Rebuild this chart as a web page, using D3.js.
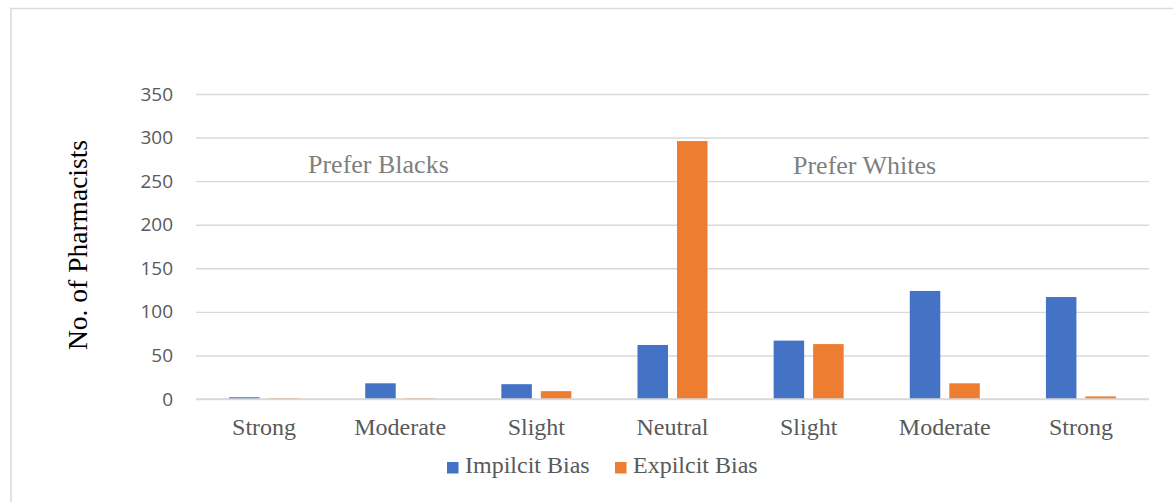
<!DOCTYPE html>
<html>
<head>
<meta charset="utf-8">
<script src="https://cdn.jsdelivr.net/npm/d3@7/dist/d3.min.js"></script>
<style>
  html, body { margin: 0; padding: 0; background: #fff; }
  svg { display: block; }
  .serif { font-family: "Liberation Serif", "Times New Roman", serif; }
</style>
</head>
<body>
<svg id="chart" width="1173" height="502"></svg>
<script>
// Bias categories along the x axis
const categories = ["Strong", "Moderate", "Slight", "Neutral", "Slight", "Moderate", "Strong"];
// Series names and counts of pharmacists
const seriesNames = ["Impilcit Bias", "Expilcit Bias"];
const implicitBias = [2, 18, 17, 62, 67, 124, 117];
const explicitBias = [1, 1, 9, 296, 63, 18, 3];
const yTicks = [0, 50, 100, 150, 200, 250, 300, 350];
const colors = ["#4472C4", "#ED7D31"];

const svg = d3.select("#chart");
const W = 1173, H = 502;
const plot = { left: 196, right: 1149, top: 94, bottom: 399 };
const serif = "'Liberation Serif', 'Times New Roman', serif";

// outer chart border
svg.append("rect")
  .attr("x", 11).attr("y", 8.5)
  .attr("width", W + 20).attr("height", H + 20)
  .attr("fill", "#fff").attr("stroke", "#d9d9d9").attr("stroke-width", 1.5);

const x = d3.scaleBand().domain(d3.range(categories.length))
  .range([plot.left, plot.right]).paddingInner(0).paddingOuter(0);
const xInner = d3.scaleBand().domain(seriesNames).range([-35, 35]).paddingInner(0.228);
const y = d3.scaleLinear().domain([0, 350]).range([plot.bottom, plot.top]);

// horizontal gridlines and y tick labels
const yAxis = d3.axisLeft(y).tickValues(yTicks).tickSize(-(plot.right - plot.left)).tickPadding(23);
const gy = svg.append("g").attr("transform", `translate(${plot.left},0)`).call(yAxis)
  .attr("font-family", "'Open Sans', 'Liberation Sans', sans-serif")
  .attr("font-size", 19);
gy.select(".domain").remove();
gy.selectAll(".tick line").attr("stroke", "#d9d9d9").attr("stroke-width", 1.4);
gy.selectAll(".tick text").attr("fill", "#595959");

// bars
const series = [implicitBias, explicitBias];
series.forEach((vals, si) => {
  svg.append("g").selectAll("rect")
    .data(vals)
    .join("rect")
    .attr("x", (d, i) => x(i) + x.bandwidth() / 2 + xInner(seriesNames[si]))
    .attr("width", xInner.bandwidth())
    .attr("y", d => y(d))
    .attr("height", d => y(0) - y(d))
    .attr("fill", colors[si]);
});

// baseline over bar bottoms
svg.append("line")
  .attr("x1", plot.left).attr("x2", plot.right)
  .attr("y1", y(0)).attr("y2", y(0))
  .attr("stroke", "#d9d9d9").attr("stroke-width", 1.4);

// category labels
const xAxis = d3.axisBottom(x).tickFormat(i => categories[i]).tickSize(0).tickPadding(0);
const gx = svg.append("g").attr("transform", `translate(0,${plot.bottom})`).call(xAxis)
  .attr("font-family", serif)
  .attr("font-size", 24);
gx.select(".domain").remove();
gx.selectAll(".tick text")
  .attr("class", "serif")
  .attr("y", 36).attr("dy", null)
  .attr("fill", "#595959");

// y axis title
svg.append("text")
  .attr("class", "serif")
  .attr("transform", "translate(87,245) rotate(-90)")
  .attr("text-anchor", "middle")
  .attr("fill", "#000")
  .attr("font-size", 27.5)
  .text("No. of Pharmacists");

// preference annotations
const notes = [{ text: "Prefer Blacks", x: 308, y: 173 }, { text: "Prefer Whites", x: 793, y: 174 }];
svg.selectAll(".note").data(notes).join("text")
  .attr("class", "note serif")
  .attr("x", d => d.x).attr("y", d => d.y)
  .attr("fill", "#7f7f7f")
  .attr("font-size", 26)
  .text(d => d.text);

// legend
const legendItems = [{ name: seriesNames[0], x: 447 }, { name: seriesNames[1], x: 615 }];
const lg = svg.append("g");
legendItems.forEach((it, i) => {
  lg.append("rect").attr("x", it.x).attr("y", 462).attr("width", 11.5).attr("height", 11.5).attr("fill", colors[i]);
  lg.append("text")
    .attr("class", "serif")
    .attr("x", it.x + 18).attr("y", 473)
    .attr("fill", "#595959")
    .attr("font-size", 24)
    .text(it.name);
});
</script>
</body>
</html>
